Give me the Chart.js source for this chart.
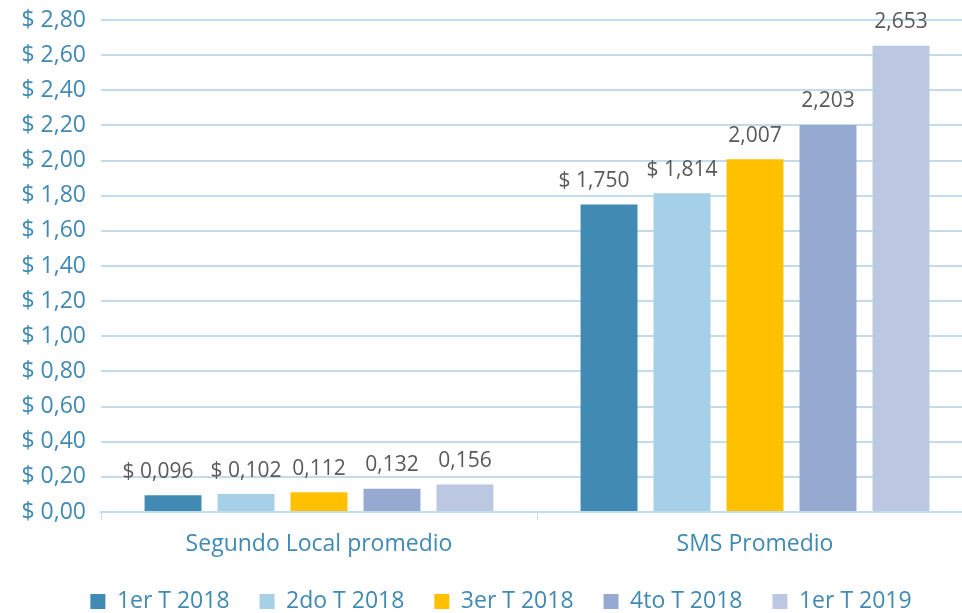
<!DOCTYPE html>
<html>
<head>
<meta charset="utf-8">
<script src="https://cdn.jsdelivr.net/npm/chart.js@4.4.1/dist/chart.umd.min.js"></script>
<style>
  html, body { margin: 0; padding: 0; background: #fff; overflow: hidden; }
  #wrap { width: 1002px; height: 623px; position: relative; }
</style>
</head>
<body>
<div id="wrap"><canvas id="costChart"></canvas></div>
<script>
// Categories and quarterly series
const categories = ['Segundo Local promedio', 'SMS Promedio'];
const seriesNames = ['1er T 2018', '2do T 2018', '3er T 2018', '4to T 2018', '1er T 2019'];
const q1_2018 = [0.096, 1.750];
const q2_2018 = [0.102, 1.814];
const q3_2018 = [0.112, 2.007];
const q4_2018 = [0.132, 2.203];
const q1_2019 = [0.156, 2.653];
// Labels printed over each bar
const q1_2018Labels = ['$ 0,096', '$ 1,750'];
const q2_2018Labels = ['$ 0,102', '$ 1,814'];
const q3_2018Labels = ['0,112', '2,007'];
const q4_2018Labels = ['0,132', '2,203'];
const q1_2019Labels = ['0,156', '2,653'];

const colors = ['#418AB3', '#A6CFE8', '#FFC000', '#95A9D1', '#BCC8E2'];
const values = [q1_2018, q2_2018, q3_2018, q4_2018, q1_2019];
const valueLabels = [q1_2018Labels, q2_2018Labels, q3_2018Labels, q4_2018Labels, q1_2019Labels];

const axisBlue = '#418AB3';
const gridBlue = '#C3DCEA';
const fontFamily = '"Open Sans", sans-serif';

// Draws the value text above every bar; the first series is nudged left so it doesn't run into the next one
const barLabels = {
    id: 'barLabels',
    afterDatasetsDraw(chart) {
        const ctx = chart.ctx;
        ctx.save();
        ctx.font = '21px ' + fontFamily;
        ctx.fillStyle = '#595959';
        ctx.textAlign = 'center';
        ctx.textBaseline = 'bottom';
        chart.data.datasets.forEach((ds, i) => {
            const nudge = i === 0 ? -15 : 0;
            chart.getDatasetMeta(i).data.forEach((bar, j) => {
                ctx.fillText(valueLabels[i][j], bar.x + nudge, bar.y - 13);
            });
        });
        ctx.restore();
    }
};

const ctx = document.getElementById('costChart').getContext('2d');
new Chart(ctx, {
    type: 'bar',
    data: {
        labels: categories,
        datasets: seriesNames.map((name, i) => ({
            label: name,
            data: values[i],
            backgroundColor: colors[i],
            barPercentage: 0.78,
            categoryPercentage: 0.837
        }))
    },
    options: {
        responsive: true,
        maintainAspectRatio: false,
        animation: false,
        layout: { padding: { top: 20, right: 0, left: 0, bottom: 0 } },
        plugins: {
            tooltip: { enabled: false },
            legend: {
                position: 'bottom',
                labels: {
                    boxWidth: 15,
                    boxHeight: 15,
                    padding: 30,
                    color: axisBlue,
                    font: { family: fontFamily, size: 23 }
                }
            }
        },
        scales: {
            x: {
                afterFit(scale) { scale.height = 48; },
                grid: {
                    display: true,
                    drawOnChartArea: false,
                    drawTicks: true,
                    tickLength: 8,
                    color: gridBlue,
                    offset: true
                },
                border: { color: gridBlue, width: 2 },
                ticks: {
                    color: axisBlue,
                    padding: 11,
                    font: { family: fontFamily, size: 23 }
                }
            },
            y: {
                min: 0,
                max: 2.8,
                afterFit(scale) {
                    scale.width = 101;
                    scale.paddingTop = 0;
                },
                grid: { color: gridBlue, lineWidth: 2, drawTicks: false },
                border: { display: false },
                ticks: {
                    stepSize: 0.2,
                    padding: 15,
                    color: axisBlue,
                    font: { family: fontFamily, size: 23 },
                    callback: v => '$ ' + v.toFixed(2).replace('.', ',')
                }
            },
            // empty spacer on the right so the plot keeps its width while the legend stays centred on the full canvas
            spacer: {
                position: 'right',
                afterFit(scale) { scale.width = 29; },
                grid: { display: false },
                border: { display: false },
                ticks: { display: false }
            }
        }
    },
    plugins: [barLabels]
});
</script>
</body>
</html>
